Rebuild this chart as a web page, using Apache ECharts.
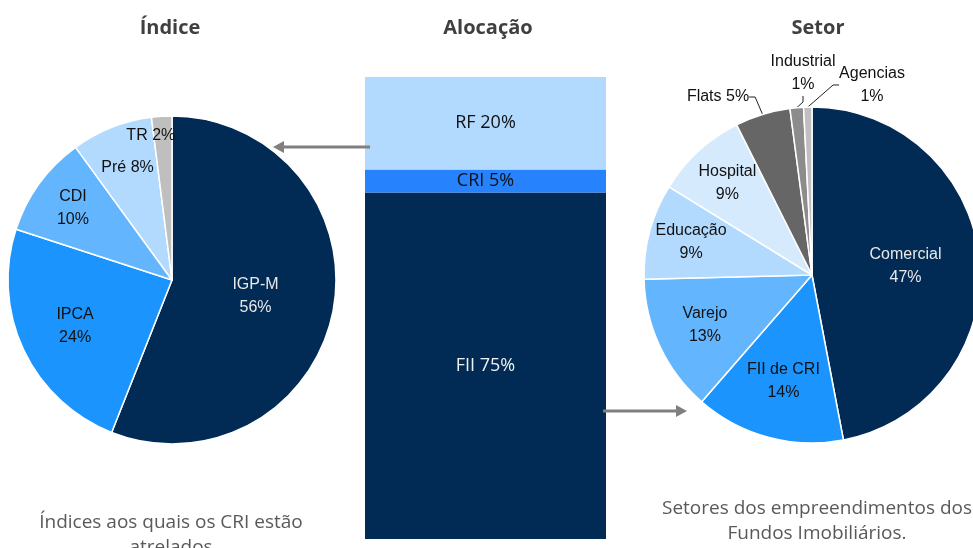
<!DOCTYPE html>
<html>
<head>
<meta charset="utf-8">
<script src="https://cdn.jsdelivr.net/npm/echarts@6/dist/echarts.min.js"></script>
<style>
html, body { margin: 0; padding: 0; background: #fff; }
#chart { width: 973px; height: 548px; }
</style>
</head>
<body>
<div id="chart"></div>
<script>
// dados
const indiceNames = ['IGP-M', 'IPCA', 'CDI', 'Pré', 'TR'];
const indiceValues = [56, 24, 10, 8, 2];

const alocNames = ['FII', 'CRI', 'RF'];
const alocValues = [75, 5, 20];

const setorNames = ['Comercial', 'FII de CRI', 'Varejo', 'Educação', 'Hospital', 'Flats', 'Industrial', 'Agencias'];
const setorValues = [47, 14.4, 13.2, 9.2, 8.8, 5.3, 1.3, 0.8];

// estilos
const indiceColors = ['#012b54', '#1b95fd', '#63b6fd', '#b1dafe', '#bfbfbf'];
const alocColors = ['#012b54', '#2782fd', '#b1dafe'];
const setorColors = ['#012b54', '#1b95fd', '#63b6fd', '#b1dafe', '#d6eafe', '#666666', '#8c8c8c', '#bfbfbf'];

const oneLine = ['Pré', 'TR', 'Flats'];
const lightText = ['IGP-M', 'Comercial', 'FII'];
const outsideLabels = {
    'Flats': [-94, -178],
    'Industrial': [-9, -202],
    'Agencias': [60, -190]
};
const labelNudge = { 'TR': [-12, 2] };

const indiceCenter = [172, 280];
const setorCenter = [812, 275];
const indiceFactors = [0.5, 0.63, 0.72, 0.71, 0.86];
const setorFactors = [0.54, 0.63, 0.68, 0.72, 0.72];

const labelFont = 'Liberation Sans, Arial, sans-serif';

function pieLabel(name, value) {
    const pct = Math.round(value) + '%';
    return oneLine.indexOf(name) >= 0 ? name + ' ' + pct : name + '\n' + pct;
}

function pieData(names, values, colors) {
    return names.map((n, i) => {
        const item = {
            name: n,
            value: values[i],
            itemStyle: { color: colors[i] },
            label: { color: lightText.indexOf(n) >= 0 ? '#e8e8e8' : '#111' }
        };
        if (outsideLabels[n]) {
            item.label.position = 'outside';
            item.labelLine = { show: true };
        }
        return item;
    });
}

function pieLayout(center, factors, names) {
    return function (p) {
        const n = names[p.dataIndex];
        const r = p.labelRect;
        if (outsideLabels[n]) {
            const o = outsideLabels[n];
            return {
                x: center[0] + o[0],
                y: center[1] + o[1],
                align: 'center',
                verticalAlign: 'middle'
            };
        }
        const k = factors[p.dataIndex] * 2 - 1;
        const lx = r.x + r.width / 2;
        const ly = r.y + r.height / 2;
        const nudge = labelNudge[n] || [0, 0];
        return { dx: (lx - center[0]) * k + nudge[0], dy: (ly - center[1]) * k + nudge[1] };
    };
}

function pieSeries(names, values, colors, center, radius, factors) {
    return {
        type: 'pie',
        center: center,
        radius: [0, radius],
        startAngle: 90,
        clockwise: true,
        animation: false,
        silent: true,
        data: pieData(names, values, colors),
        itemStyle: { borderColor: '#fff', borderWidth: 1.5 },
        label: {
            position: 'inside',
            fontFamily: labelFont,
            fontSize: 16,
            lineHeight: 23,
            formatter: p => pieLabel(p.name, p.value)
        },
        labelLine: {
            show: false,
            length: 8,
            length2: 6,
            lineStyle: { color: '#222', width: 1 }
        },
        labelLayout: pieLayout(center, factors, names)
    };
}

function arrow(x1, x2, y) {
    const dir = x2 > x1 ? 1 : -1;
    const head = 11;
    return {
        type: 'group',
        z: 100,
        children: [
            {
                type: 'line',
                z: 100,
                shape: { x1: x1, y1: y, x2: x2 - dir * head, y2: y },
                style: { stroke: '#808080', lineWidth: 3 }
            },
            {
                type: 'polygon',
                z: 100,
                shape: { points: [[x2, y], [x2 - dir * head, y - 6], [x2 - dir * head, y + 6]] },
                style: { fill: '#808080' }
            }
        ]
    };
}

const titleStyle = { fontFamily: 'Open Sans', fontWeight: 'bold', fontSize: 20, fill: '#404040' };
const noteStyle = { fontFamily: 'Open Sans', fontSize: 19, fill: '#595959', lineHeight: 25 };

function text(x, y, str, style) {
    return {
        type: 'text', x: x, y: y, z: 100,
        style: Object.assign({ text: str, textAlign: 'center', textVerticalAlign: 'middle' }, style)
    };
}

const barSeries = alocNames.map((n, i) => ({
    name: n,
    type: 'bar',
    stack: 'aloc',
    barWidth: '100%',
    animation: false,
    silent: true,
    data: [alocValues[i]],
    itemStyle: { color: alocColors[i] },
    label: {
        show: true,
        position: 'inside',
        fontFamily: 'Open Sans',
        fontSize: 18,
        color: lightText.indexOf(n) >= 0 ? '#f0f0f0' : '#111',
        formatter: p => p.seriesName + ' ' + p.value + '%'
    }
}));

const option = {
    backgroundColor: '#fff',
    grid: { left: 365, width: 241, top: 77, height: 462 },
    xAxis: { type: 'category', data: ['Alocação'], show: false },
    yAxis: { type: 'value', min: 0, max: 100, show: false },
    series: [
        ...barSeries,
        pieSeries(indiceNames, indiceValues, indiceColors, indiceCenter, 164, indiceFactors),
        pieSeries(setorNames, setorValues, setorColors, setorCenter, 168, setorFactors)
    ],
    graphic: [
        text(170, 28, 'Índice', titleStyle),
        text(488, 28, 'Alocação', titleStyle),
        text(818, 28, 'Setor', titleStyle),
        text(171, 535, 'Índices aos quais os CRI estão\natrelados', noteStyle),
        text(817, 521, 'Setores dos empreendimentos dos\nFundos Imobiliários.', noteStyle),
        arrow(370, 273, 147),
        arrow(603, 687, 411)
    ]
};

const myChart = echarts.init(document.getElementById('chart'));
myChart.setOption(option);
</script>
</body>
</html>
